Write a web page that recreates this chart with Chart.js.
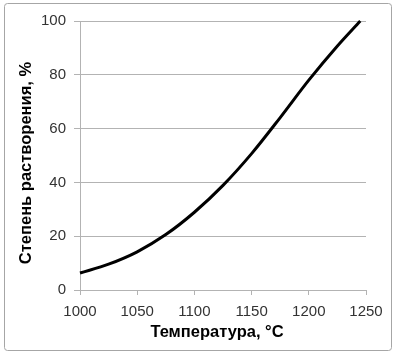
<!DOCTYPE html>
<html>
<head>
<meta charset="utf-8">
<script src="https://cdn.jsdelivr.net/npm/chart.js@4"></script>
<style>
html,body{margin:0;padding:0;background:#fff;}
#wrap{width:398px;height:357px;position:relative;}
</style>
</head>
<body>
<div id="wrap"><canvas id="c" width="398" height="357"></canvas></div>
<script>
const temperatures = [1000, 1025, 1050, 1075, 1100, 1125, 1150, 1175, 1200, 1225, 1245];
const dissolution  = [6.3, 9.6, 14.2, 20.6, 28.9, 38.9, 50.7, 64.1, 78.0, 90.7, 100];
const xTicks = [1000, 1050, 1100, 1150, 1200, 1250];
const yTicks = [0, 20, 40, 60, 80, 100];
const xTitle = 'Температура, °C';
const yTitle = 'Степень растворения, %';

const points = temperatures.map((t, i) => ({x: t, y: dissolution[i]}));

const frame = {
  id: 'frame',
  beforeDraw(chart) {
    const ctx = chart.ctx;
    ctx.save();
    ctx.fillStyle = '#fff';
    ctx.fillRect(0, 0, chart.width, chart.height);
    ctx.strokeStyle = '#a6a6a6';
    ctx.lineWidth = 1;
    ctx.beginPath();
    ctx.roundRect(4.5, 3.5, 387, 347, 3);
    ctx.stroke();
    ctx.restore();
  },
  afterDraw(chart) {
    const ctx = chart.ctx;
    ctx.save();
    ctx.fillStyle = '#000';
    ctx.font = 'bold 16.5px "Liberation Sans", Arial, sans-serif';
    ctx.textAlign = 'center';
    ctx.textBaseline = 'middle';
    ctx.fillText(xTitle, 217, 332);
    ctx.translate(26, 163);
    ctx.rotate(-Math.PI / 2);
    ctx.fillText(yTitle, 0, 0);
    ctx.restore();
  }
};

new Chart(document.getElementById('c'), {
  type: 'line',
  data: {
    datasets: [{
      data: points,
      borderColor: '#000',
      borderWidth: 3,
      pointRadius: 0,
      fill: false,
      cubicInterpolationMode: 'monotone',
      clip: false
    }]
  },
  options: {
    responsive: false,
    animation: false,
    layout: {padding: {left: 0, top: 21, right: 32, bottom: 0}},
    plugins: {legend: {display: false}, tooltip: {enabled: false}},
    scales: {
      x: {
        type: 'linear',
        min: 1000, max: 1250,
        afterBuildTicks: s => { s.ticks = xTicks.map(v => ({value: v})); },
        afterFit: s => { s.height = 67; },
        grid: {drawOnChartArea: false, drawTicks: true, tickLength: 5, color: '#b3b3b3'},
        border: {display: true, color: '#b3b3b3', width: 1},
        ticks: {padding: 8, color: '#333', maxRotation: 0,
          callback: v => String(v),
          font: {family: '"Liberation Sans", Arial, sans-serif', size: 15}}
      },
      y: {
        min: 0, max: 100,
        afterBuildTicks: s => { s.ticks = yTicks.map(v => ({value: v})); },
        afterFit: s => { s.width = 80; },
        grid: {color: '#b3b3b3', tickLength: 6},
        border: {display: true, color: '#b3b3b3', width: 1},
        ticks: {padding: 8, color: '#333',
          callback: v => String(v),
          font: {family: '"Liberation Sans", Arial, sans-serif', size: 15}}
      }
    }
  },
  plugins: [frame]
});
</script>
</body>
</html>
